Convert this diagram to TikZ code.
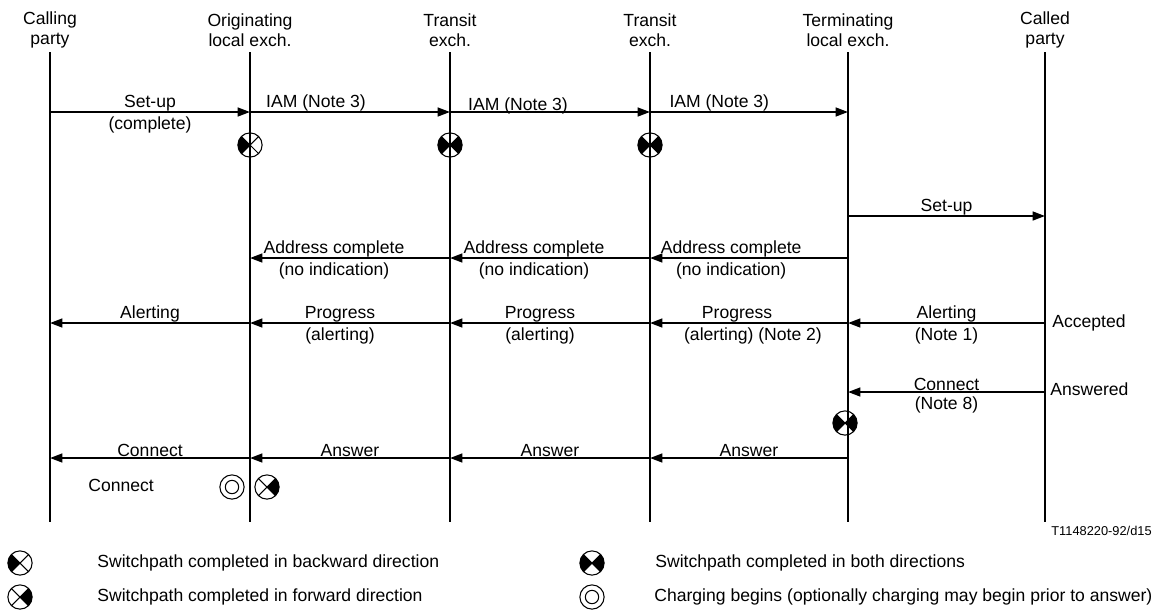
\documentclass[tikz,border=0pt]{standalone}
\usepackage{fontspec}
\setmainfont{Liberation Sans}
\usetikzlibrary{arrows.meta}

\tikzset{
	hdr/.style={align=center,inner sep=0pt},
	life/.style={line width=1.1pt},
	msg/.style={line width=1.1pt,-{Triangle[length=7pt,width=5pt]}},
	toplbl/.style={midway,above=-1pt,inner sep=1pt},
	botlbl/.style={midway,below=1pt,inner sep=1pt},
	txt/.style={anchor=west,inner sep=0pt},
	pics/swback/.style={code={
		\fill (0,0) -- (135:6.9pt) arc (135:225:6.9pt) -- cycle;
		\draw[line width=.6pt] (0,0) circle (6.9pt) (45:6.9pt) -- (225:6.9pt) (135:6.9pt) -- (-45:6.9pt);
	}},
	pics/swfwd/.style={code={
		\fill (0,0) -- (-45:6.9pt) arc (-45:45:6.9pt) -- cycle;
		\draw[line width=.6pt] (0,0) circle (6.9pt) (45:6.9pt) -- (225:6.9pt) (135:6.9pt) -- (-45:6.9pt);
	}},
	pics/swboth/.style={code={
		\fill (0,0) -- (135:6.9pt) arc (135:225:6.9pt) -- cycle;
		\fill (0,0) -- (-45:6.9pt) arc (-45:45:6.9pt) -- cycle;
		\draw[line width=.6pt] (0,0) circle (6.9pt) (45:6.9pt) -- (225:6.9pt) (135:6.9pt) -- (-45:6.9pt);
	}},
	pics/charge/.style={code={
		\draw[line width=.6pt] (0,0) circle (6.9pt) (0,0) circle (3.8pt);
	}}
}

\begin{document}
\begin{tikzpicture}[x=0.02cm,y=-0.02cm,font=\fontsize{10}{11.4}\selectfont]
	\useasboundingbox (0,0) rectangle (1162,613);
	\node[hdr] (cp) at (50,30) {Calling\\party};
	\node[hdr] (oe) at (250,30) {Originating\\local exch.};
	\node[hdr] (tra) at (450,30) {Transit\\exch.};
	\node[hdr] (trb) at (650,30) {Transit\\exch.};
	\node[hdr] (te) at (848,30) {Terminating\\local exch.};
	\node[hdr] (cd) at (1045,30) {Called\\party};
	\coordinate (top) at (0,52);
	\coordinate (bot) at (0,522);
	\foreach \n in {cp,oe,tra,trb,te,cd}{
		\draw[life] (\n |- top) -- (\n |- bot);
	}
	\coordinate (r1) at (0,112);
	\coordinate (r2) at (0,216);
	\coordinate (r3) at (0,258);
	\coordinate (r4) at (0,323);
	\coordinate (r5) at (0,392);
	\coordinate (r6) at (0,458);

	\draw[msg] (cp |- r1) -- (oe |- r1) node[toplbl]{Set-up} node[botlbl]{(complete)};
	\draw[msg] (oe |- r1) -- (tra |- r1) node[toplbl,pos=.33]{IAM (Note 3)};
	\draw[msg] (tra |- r1) -- (trb |- r1) node[toplbl,pos=.34,yshift=-2pt]{IAM (Note 3)};
	\draw[msg] (trb |- r1) -- (te |- r1) node[toplbl,pos=.35]{IAM (Note 3)};
	\pic at (oe |- 0,145) {swback};
	\pic at (tra |- 0,145) {swboth};
	\pic at (trb |- 0,145) {swboth};

	\draw[msg] (te |- r2) -- (cd |- r2) node[toplbl]{Set-up};
	\draw[msg] (te |- r3) -- (trb |- r3) node[toplbl,pos=.59]{Address complete} node[botlbl,pos=.59]{(no indication)};
	\draw[msg] (trb |- r3) -- (tra |- r3) node[toplbl,pos=.58]{Address complete} node[botlbl,pos=.58]{(no indication)};
	\draw[msg] (tra |- r3) -- (oe |- r3) node[toplbl,pos=.58]{Address complete} node[botlbl,pos=.58]{(no indication)};

	\draw[msg] (cd |- r4) -- (te |- r4) node[toplbl]{Alerting} node[botlbl]{(Note 1)};
	\draw[msg] (te |- r4) -- (trb |- r4) node[toplbl,pos=.56]{Progress} node[botlbl,pos=.48]{(alerting) (Note 2)};
	\draw[msg] (trb |- r4) -- (tra |- r4) node[toplbl,pos=.55]{Progress} node[botlbl,pos=.55]{(alerting)};
	\draw[msg] (tra |- r4) -- (oe |- r4) node[toplbl,pos=.55]{Progress} node[botlbl,pos=.55]{(alerting)};
	\draw[msg] (oe |- r4) -- (cp |- r4) node[toplbl]{Alerting};
	\node[txt] (acc) at (1052,323) {Accepted};

	\draw[msg] (cd |- r5) -- (te |- r5) node[toplbl]{Connect} node[botlbl]{(Note 8)};
	\node[txt] (ans) at (1050,389) {Answered};
	\pic at (845,423) {swboth};

	\draw[msg] (te |- r6) -- (trb |- r6) node[toplbl]{Answer};
	\draw[msg] (trb |- r6) -- (tra |- r6) node[toplbl]{Answer};
	\draw[msg] (tra |- r6) -- (oe |- r6) node[toplbl]{Answer};
	\draw[msg] (oe |- r6) -- (cp |- r6) node[toplbl]{Connect};
	\node[txt] (con) at (88,485) {Connect};
	\pic at (232,487) {charge};
	\pic at (267,487) {swfwd};

	\node[anchor=east,inner sep=0pt,font=\fontsize{7.3}{9}\selectfont] (ref) at (1152,531) {T1148220-92/d15};

	\pic at (20,563) {swback};
	\node[txt] (lg1) at (97,563) {Switchpath completed in backward direction};
	\pic at (20,597) {swfwd};
	\node[txt] (lg2) at (97,597) {Switchpath completed in forward direction};
	\pic at (592,563) {swboth};
	\node[txt] (lg3) at (655,563) {Switchpath completed in both directions};
	\pic at (592,597) {charge};
	\node[txt] (lg4) at (654,597) {Charging begins (optionally charging may begin prior to answer)};
\end{tikzpicture}
\end{document}
